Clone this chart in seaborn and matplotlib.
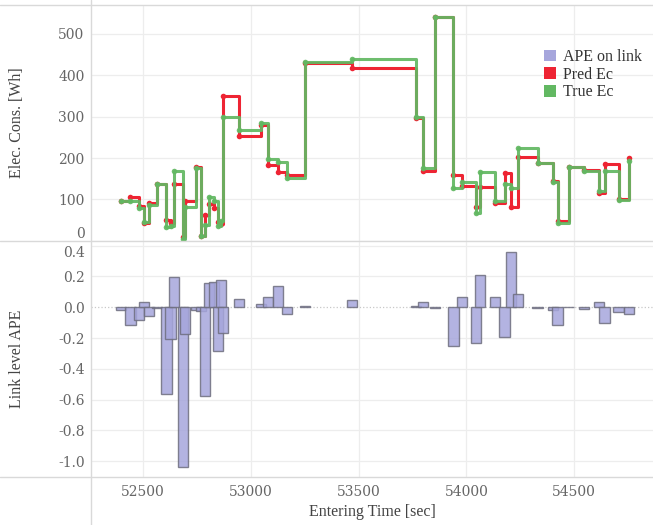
import matplotlib
matplotlib.use("Agg")
import matplotlib.pyplot as plt
import matplotlib.ticker as mticker
from matplotlib.lines import Line2D
from matplotlib.patches import Patch
import pandas as pd
import seaborn as sns

# ---------------------------------------------------------------------------
# Data
# ---------------------------------------------------------------------------
entry_time = [52398, 52441, 52482, 52503, 52525, 52565, 52608, 52627, 52644, 52686,
              52692, 52746, 52769, 52788, 52806, 52829, 52848, 52861, 52871, 52944,
              53048, 53080, 53125, 53167, 53252, 53471, 53767, 53799, 53854, 53940,
              53980, 54046, 54065, 54131, 54177, 54209, 54241, 54330, 54403, 54423,
              54474, 54546, 54616, 54641, 54706, 54754]
pred_ec = [96, 106, 84, 43, 91, 137, 50, 43, 136, 10,
           97, 178, 12, 62, 88, 79, 46, 40, 349, 253,
           280, 184, 165, 158, 429, 418, 297, 169, 541, 160,
           133, 81, 130, 90, 163, 82, 203, 187, 144, 47,
           178, 171, 115, 185, 101, 201]
true_ec = [95, 95, 78, 45, 86, 137, 32, 36, 169, 5,
           82, 175, 12, 39, 105, 95, 36, 48, 298, 268,
           285, 197, 191, 151, 433, 439, 299, 175, 540, 128,
           143, 66, 165, 96, 137, 128, 223, 187, 141, 42,
           179, 169, 119, 168, 98, 193]
ape_link = [-0.02, -0.115, -0.085, 0.034, -0.057, -0.005, -0.56, -0.206, 0.195, -1.04,
            -0.175, -0.02, -0.024, -0.574, 0.156, 0.164, -0.284, 0.177, -0.169, 0.056,
            0.019, 0.069, 0.138, -0.043, 0.01, 0.047, 0.005, 0.034, -0.003, -0.25,
            0.069, -0.23, 0.21, 0.065, -0.19, 0.36, 0.088, -0.003, -0.02, -0.113,
            0.003, -0.011, 0.034, -0.104, -0.028, -0.043]

ec_ticks = [0, 100, 200, 300, 400, 500]
ape_ticks = [-1.0, -0.8, -0.6, -0.4, -0.2, 0.0, 0.2, 0.4]
time_ticks = [52500, 53000, 53500, 54000, 54500]

# ---------------------------------------------------------------------------
# Style
# ---------------------------------------------------------------------------
sns.set_theme(style="white")
plt.rcParams.update({
    "font.family": ["Liberation Serif", "DejaVu Serif"],
    "axes.unicode_minus": False,
})

RED = "#ee2433"
GREEN = "#62b862"
BAR = "#a6a6dc"
FRAME = "#d9d9d9"
GRID = "#ededed"
TICK_COLOR = "#666666"
LABEL_COLOR = "#444444"

df = pd.DataFrame({"t": entry_time, "pred": pred_ec, "true": true_ec, "ape": ape_link})

fig = plt.figure(figsize=(6.53, 5.25), dpi=100)
ax_top = fig.add_axes([0.1401, 0.5415, 0.8599, 0.4490])
ax_bot = fig.add_axes([0.1401, 0.0914, 0.8599, 0.4501], sharex=ax_top)

# top panel: step lines
sns.lineplot(data=df, x="t", y="pred", drawstyle="steps-post", marker="o",
             markersize=4, markeredgewidth=0, linewidth=2.2, color=RED,
             estimator=None, sort=False, ax=ax_top, zorder=3, clip_on=False)
sns.lineplot(data=df, x="t", y="true", drawstyle="steps-post", marker="o",
             markersize=4, markeredgewidth=0, linewidth=2.2, color=GREEN, alpha=0.92,
             estimator=None, sort=False, ax=ax_top, zorder=4, clip_on=False)

# bottom panel: APE bars
ax_bot.bar(df["t"], df["ape"], width=47, color=BAR, alpha=0.85,
           edgecolor="#6e6e7e", linewidth=1.0, zorder=3)
ax_bot.axhline(0, color="#c8c8c8", linestyle=":", linewidth=0.9, zorder=1)

ax_top.set_xlim(52260, 54866)
ax_top.set_ylim(0, 570)
ax_bot.set_ylim(-1.102, 0.432)

ax_top.set_yticks(ec_ticks)
ax_bot.set_yticks(ape_ticks)
ax_bot.set_xticks(time_ticks)
ax_bot.yaxis.set_major_formatter(mticker.FormatStrFormatter("%.1f"))

for ax in (ax_top, ax_bot):
    for spine in ax.spines.values():
        spine.set_visible(False)
    ax.tick_params(axis="both", length=0, labelcolor=TICK_COLOR, labelsize=10,
                   labelfontfamily="DejaVu Serif")
    ax.tick_params(axis="y", pad=5)
    ax.grid(True, axis="x", color=GRID, linewidth=0.9, zorder=0)
    ax.set_axisbelow(True)

ax_top.grid(True, axis="y", color=GRID, linewidth=0.9)
for y in ape_ticks:
    if y != 0.0:
        ax_bot.axhline(y, color=GRID, linewidth=0.9, zorder=0)
ax_top.tick_params(axis="x", labelbottom=False)
ax_bot.tick_params(axis="x", pad=6)

# keep edge tick labels inside their panels
ax_top.get_yticklabels()[0].set_verticalalignment("bottom")
ax_bot.get_yticklabels()[-1].set_verticalalignment("top")

ax_top.set_xlabel("")
ax_top.set_ylabel("Elec. Cons. [Wh]", fontsize=11.5, color=LABEL_COLOR)
ax_bot.set_ylabel("Link level APE", fontsize=11.5, color=LABEL_COLOR)
ax_bot.set_xlabel("Entering Time [sec]", fontsize=11.5, color=LABEL_COLOR, labelpad=3)
ax_top.yaxis.set_label_coords(-0.119, 0.5)
ax_bot.yaxis.set_label_coords(-0.119, 0.5)

handles = [Patch(facecolor=BAR, edgecolor="none"),
           Patch(facecolor=RED, edgecolor="none"),
           Patch(facecolor=GREEN, edgecolor="none")]
ax_top.legend(handles, ["APE on link", "Pred Ec", "True Ec"],
              loc="upper left", bbox_to_anchor=(0.795, 0.84), frameon=False,
              fontsize=11.5, handlelength=0.75, handleheight=0.75,
              handletextpad=0.45, labelspacing=0.1, borderaxespad=0,
              labelcolor="#333333")

# surrounding frame lines
for yy in (1 - 5 / 525, 1 - 240.7 / 525, 1 - 477 / 525):
    fig.add_artist(Line2D([0, 1], [yy, yy], transform=fig.transFigure,
                          color=FRAME, linewidth=1.0))
fig.add_artist(Line2D([0.1401, 0.1401], [0, 1], transform=fig.transFigure,
                      color=FRAME, linewidth=1.0))

fig.savefig("out.png", dpi=100, facecolor="white")
